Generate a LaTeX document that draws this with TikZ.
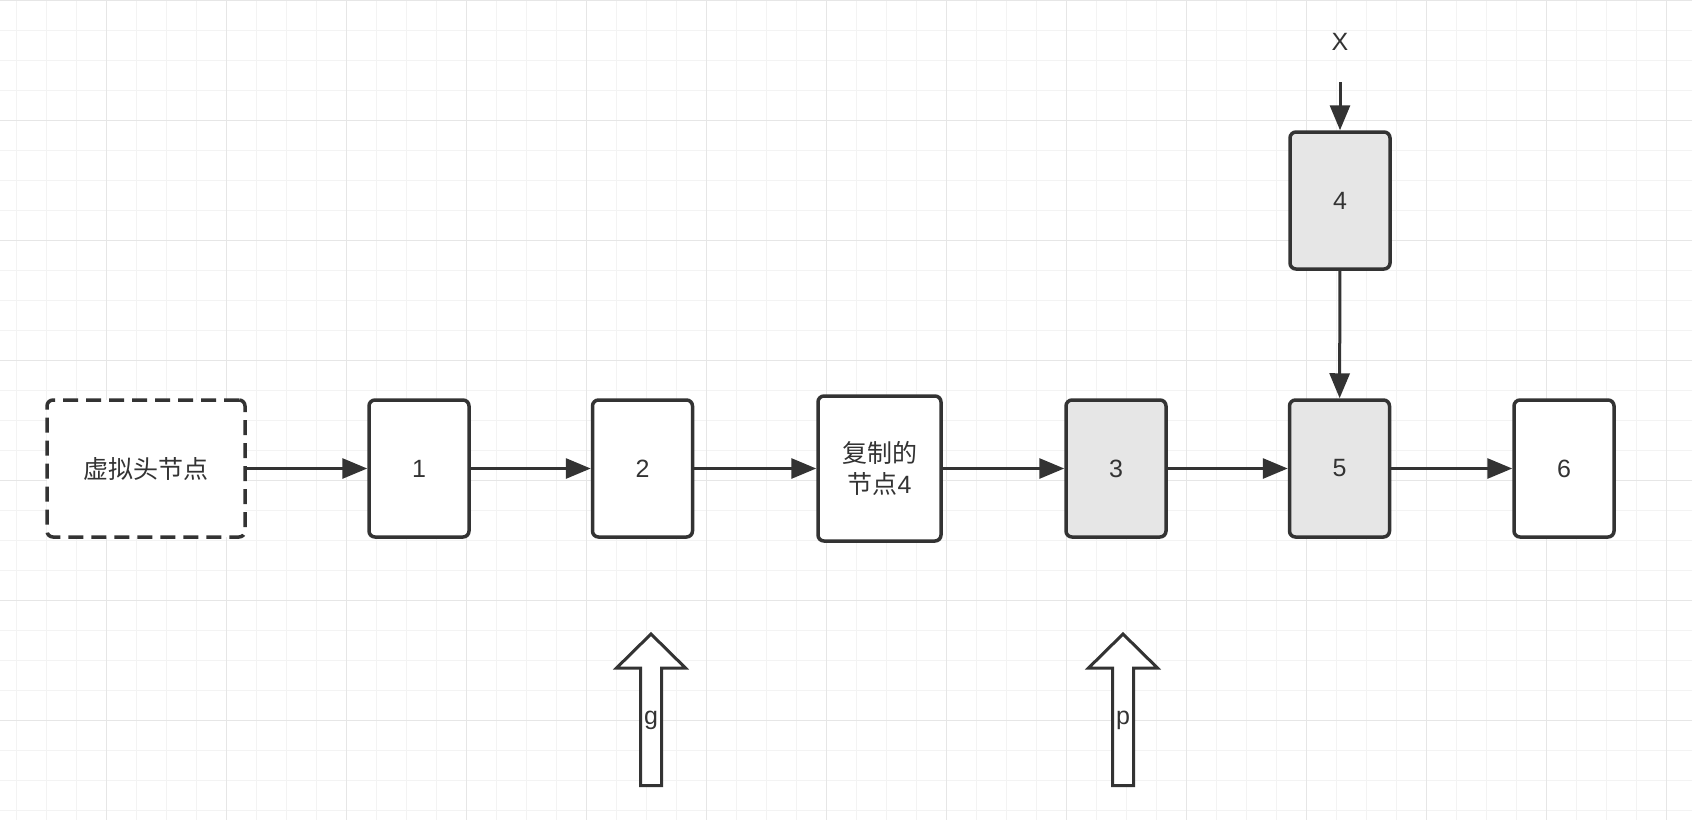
\documentclass[tikz,border=0pt]{standalone}
\usepackage{fontspec}
\setmainfont{Liberation Sans}
\newfontfamily\cjk{Noto Sans CJK SC}
\usetikzlibrary{arrows.meta}
\definecolor{ink}{HTML}{333333}
\definecolor{shade}{HTML}{E6E6E6}
\definecolor{gridminor}{HTML}{F3F3F3}
\definecolor{gridmajor}{HTML}{E6E6E6}
\begin{document}
\begin{tikzpicture}[x=1pt,y=-1pt,
  box/.style={draw=ink, line width=3.5pt, rounded corners=6pt, fill=white, text=ink,
    minimum width=100pt, minimum height=137pt, inner sep=0pt, align=center,
    font=\fontsize{25}{31}\selectfont},
  link/.style={draw=ink, line width=3pt, -{Triangle[length=25pt,width=20pt]}},
  pointer/.style={draw=ink, line width=3pt, fill=white, line join=miter},
  tag/.style={text=ink, inner sep=0pt, font=\fontsize{25}{31}\selectfont}]
\useasboundingbox (0,0) rectangle (1692,820);
\fill[white] (0,0) rectangle (1692,820);
% background grid
\foreach \x in {16.7,46.7,...,1692} \draw[gridminor,line width=1.5pt] (\x,0) -- (\x,820);
\foreach \y in {30.5,60.5,...,820} \draw[gridminor,line width=1.5pt] (0,\y) -- (1692,\y);
\foreach \x in {106.7,226.7,...,1692} \draw[gridmajor,line width=1.5pt] (\x,0) -- (\x,820);
\foreach \y in {0.5,120.5,...,820} \draw[gridmajor,line width=1.5pt] (0,\y) -- (1692,\y);

\node[box, dashed, dash pattern=on 15pt off 8pt, minimum width=198pt] (head) at (146,468.5) {\cjk 虚拟头节点};
\node[box] (n1) at (419,468.5) {1};
\node[box] (n2) at (642.5,468.5) {2};
\node[box, minimum width=123pt, minimum height=145pt] (copy4) at (879.5,468.5) {{\cjk 复制的}\\{\cjk 节点}4};
\node[box, fill=shade] (n3) at (1116,468.5) {3};
\node[box, fill=shade] (n5) at (1339.5,468.5) {5};
\node[box] (n6) at (1564,468.5) {6};
\node[box, fill=shade] (n4) at (1340,200.5) {4};

\node[tag] (xlabel) at (1340,42) {X};
\coordinate (xin) at (1340,82);

\path[link] (head) -- (n1);
\path[link] (n1) -- (n2);
\path[link] (n2) -- (copy4);
\path[link] (copy4) -- (n3);
\path[link] (n3) -- (n5);
\path[link] (n5) -- (n6);
\path[link] (xin) -- (n4);
\path[link] (n4) -- (n5);

% block arrows under the list
\draw[pointer] (651,634) -- (685.5,668) -- (661.5,668) -- (661.5,785.5) -- (640.5,785.5) -- (640.5,668) -- (616.5,668) -- cycle;
\node[tag] (g) at (651,720) {g};
\draw[pointer] (1123,634) -- (1157.5,668) -- (1133.5,668) -- (1133.5,785.5) -- (1112.5,785.5) -- (1112.5,668) -- (1088.5,668) -- cycle;
\node[tag] (p) at (1123,720) {p};
\end{tikzpicture}
\end{document}
